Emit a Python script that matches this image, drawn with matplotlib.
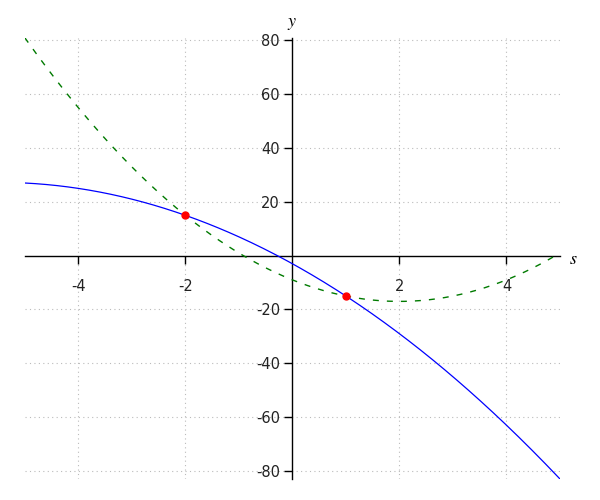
import numpy as np
import matplotlib
matplotlib.use("Agg")
import matplotlib.pyplot as plt

plt.rcParams['mathtext.fontset'] = 'stix'
plt.rcParams['axes.unicode_minus'] = False

# Data
s_range = [-5, 5]
blue_coeffs = [-1, -11, -3]      # y = -s^2 - 11 s - 3
green_coeffs = [2, -8, -9]       # y = 2 s^2 - 8 s - 9
point_s = [-2, 1]
point_y = [15, -15]
x_ticks = [-4, -2, 2, 4]
y_ticks = [-80, -60, -40, -20, 20, 40, 60, 80]

s = np.linspace(s_range[0], s_range[1], 400)
yb = np.polyval(blue_coeffs, s)
yg = np.polyval(green_coeffs, s)

fig = plt.figure(figsize=(6, 5), dpi=100)
ax = fig.add_axes([0.0413, 0.042, 0.892, 0.8826])

ax.plot(s, yb, color='#0000ff', lw=0.9, zorder=3)
ax.plot(s, yg, color='#007a00', lw=1.0, dashes=(4.3, 5.8), zorder=3)
ax.plot(point_s, point_y, 'o', color='#ff0000', ms=5, zorder=4)

ymin = min(yb.min(), yg.min())
ymax = max(yb.max(), yg.max())
ax.set_xlim(s_range)
ax.set_ylim(ymin, ymax)

for side in ['top', 'right']:
    ax.spines[side].set_visible(False)
ax.spines['left'].set_position(('data', 0))
ax.spines['bottom'].set_position(('data', 0))
for side in ['left', 'bottom']:
    ax.spines[side].set_linewidth(1.0)

ax.set_xticks(x_ticks)
ax.set_yticks(y_ticks)
ax.tick_params(axis='both', direction='out', length=6, width=1, labelsize=10.5, colors='black')
ax.tick_params(axis='x', pad=11)
ax.tick_params(axis='y', pad=3)
for lbl in ax.get_xticklabels() + ax.get_yticklabels():
    lbl.set_color('#222222')
ax.grid(True, linestyle=(0, (1, 3)), color='#bbbbbb', lw=0.8, zorder=0)

ax.text(573, 241, r'$s$', transform=None, fontsize=13, ha='center', va='center')
ax.text(292, 477, r'$y$', transform=None, fontsize=13, ha='center', va='center')

fig.savefig('out.png', dpi=100)
